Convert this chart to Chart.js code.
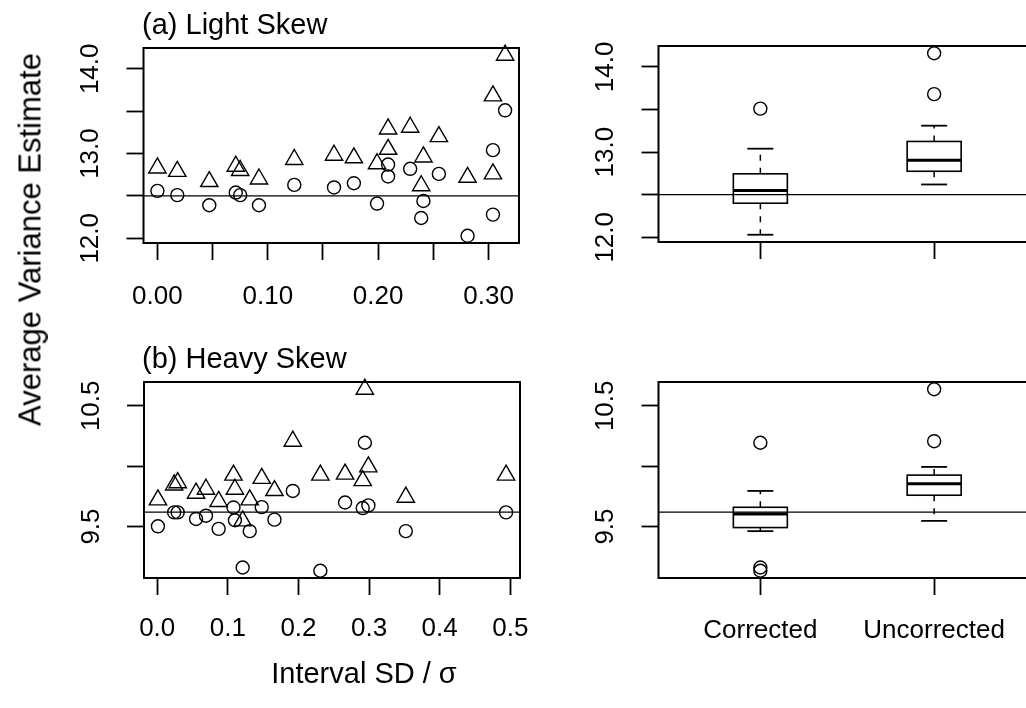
<!DOCTYPE html>
<html>
<head>
<meta charset="utf-8">
<title>Average Variance Estimate</title>
<script src="https://cdn.jsdelivr.net/npm/chart.js@4.4.1/dist/chart.umd.min.js"></script>
<style>
  html, body { margin: 0; padding: 0; background: #fff; }
  body { position: relative; width: 1026px; height: 708px; overflow: hidden; }
  canvas { position: absolute; }
  .label { position: absolute; font-family: 'Liberation Sans', Arial, Helvetica, sans-serif; color: #000; line-height: 1; white-space: nowrap; }
</style>
</head>
<body>
<canvas id="lightScatter" width="560" height="320" style="left:0;top:0"></canvas>
<canvas id="lightBox" width="500" height="320" style="left:540px;top:0"></canvas>
<canvas id="heavyScatter" width="560" height="388" style="left:0;top:320px"></canvas>
<canvas id="heavyBox" width="500" height="388" style="left:540px;top:320px"></canvas>

<div class="label" style="left:142px;top:10px;font-size:29px">(a) Light Skew</div>
<div class="label" style="left:142px;top:344px;font-size:29px">(b) Heavy Skew</div>
<div class="label" style="left:164px;top:659px;width:400px;text-align:center;font-size:29px">Interval SD / σ</div>
<div class="label" style="left:-220px;top:224px;width:500px;height:31px;text-align:center;font-size:31px;transform:rotate(-90deg)">Average Variance Estimate</div>

<script>
// (a) light skew: interval SD / sigma, corrected (circles) and uncorrected (triangles)
const lightSd = [0.000, 0.018, 0.047, 0.071, 0.075, 0.092, 0.124, 0.160, 0.178, 0.199,
                 0.209, 0.209, 0.229, 0.239, 0.241, 0.255, 0.281, 0.304, 0.304, 0.315];
const lightCorrected = [12.56, 12.51, 12.39, 12.54, 12.51, 12.39, 12.63, 12.60, 12.65, 12.41,
                        12.87, 12.73, 12.82, 12.24, 12.44, 12.76, 12.03, 13.04, 12.28, 13.51];
const lightUncorrected = [12.83, 12.79, 12.67, 12.85, 12.80, 12.70, 12.93, 12.98, 12.95, 12.88,
                          13.29, 13.05, 13.31, 12.62, 12.96, 13.20, 12.72, 13.68, 12.76, 14.16];

// (b) heavy skew
const heavySd = [0.001, 0.024, 0.029, 0.055, 0.069, 0.087, 0.108, 0.110, 0.121, 0.131,
                 0.148, 0.166, 0.192, 0.231, 0.266, 0.291, 0.294, 0.299, 0.352, 0.494];
const heavyCorrected = [9.502, 9.617, 9.617, 9.563, 9.590, 9.481, 9.658, 9.552, 9.161, 9.462,
                        9.661, 9.557, 9.795, 9.134, 9.699, 9.653, 10.194, 9.675, 9.462, 9.617];
const heavyUncorrected = [9.721, 9.844, 9.863, 9.776, 9.809, 9.708, 9.926, 9.809, 9.547, 9.721,
                          9.899, 9.798, 10.207, 9.926, 9.934, 9.880, 10.637, 9.994, 9.743, 9.926];

// true variance (horizontal reference line): light, heavy
const trueVariance = [12.5, 9.62];

const groups = ['Corrected', 'Uncorrected'];

const lightXTicks = [0, 0.05, 0.10, 0.15, 0.20, 0.25, 0.30];
const lightXLabels = ['0.00', '', '0.10', '', '0.20', '', '0.30'];
const heavyXTicks = [0, 0.1, 0.2, 0.3, 0.4, 0.5];
const heavyXLabels = ['0.0', '0.1', '0.2', '0.3', '0.4', '0.5'];
const lightYTicks = [12.0, 12.5, 13.0, 13.5, 14.0];
const lightYLabels = ['12.0', '', '13.0', '', '14.0'];
const heavyYTicks = [9.5, 10.0, 10.5];
const heavyYLabels = ['9.5', '', '10.5'];
const groupTicks = [1, 2];

const FONT = "'Liberation Sans', Arial, Helvetica, sans-serif";

// R style: data range stretched by 4% each side
function padRange(vals) {
    const lo = Math.min(...vals), hi = Math.max(...vals), d = (hi - lo) * 0.04;
    return [lo - d, hi + d];
}

// R boxplot.stats (fivenum hinges, 1.5 IQR whiskers)
function boxStats(vals) {
    const s = vals.slice().sort((a, b) => a - b), n = s.length;
    const n4 = Math.floor((n + 3) / 2) / 2;
    const q = d => 0.5 * (s[Math.floor(d) - 1] + s[Math.ceil(d) - 1]);
    const lo = q(n4), med = q((n + 1) / 2), hi = q(n + 1 - n4);
    const reach = 1.5 * (hi - lo);
    const inside = s.filter(v => v >= lo - reach && v <= hi + reach);
    return {
        lo, med, hi,
        wlo: inside[0], whi: inside[inside.length - 1],
        out: s.filter(v => v < lo - reach || v > hi + reach)
    };
}

function axis(o) {
    return {
        type: 'linear',
        min: o.min, max: o.max,
        afterBuildTicks: scale => { scale.ticks = o.ticks.map(v => ({ value: v })); },
        afterFit: scale => {
            if (o.width !== undefined) scale.width = o.width;
            if (o.height !== undefined) scale.height = o.height;
        },
        grid: { drawOnChartArea: false, drawTicks: true, tickLength: 17, tickWidth: 1.8, tickColor: '#000' },
        border: { display: false },
        ticks: {
            autoSkip: false,
            color: '#000',
            font: { family: FONT, size: 26 },
            padding: o.pad,
            minRotation: o.rot || 0,
            maxRotation: o.rot || 0,
            crossAlign: o.rot ? 'center' : 'near',
            callback: (v, i) => o.labels[i]
        }
    };
}

function pts(xs, ys) { return xs.map((x, i) => ({ x: x, y: ys[i] })); }

const circleStyle = { pointStyle: 'circle', pointRadius: 6.5, borderColor: '#000', borderWidth: 1.4, backgroundColor: 'rgba(0,0,0,0)', clip: false };
const triangleStyle = { pointStyle: 'triangle', pointRadius: 10, borderColor: '#000', borderWidth: 1.4, backgroundColor: 'rgba(0,0,0,0)', clip: false };

// frame round the plot area plus the true-variance line
function frame(ref) {
    return {
        id: 'frame',
        beforeDatasetsDraw(chart) {
            const { ctx, chartArea: a, scales: { y } } = chart;
            const py = y.getPixelForValue(ref);
            ctx.save();
            ctx.strokeStyle = '#000';
            ctx.lineWidth = 1.3;
            ctx.beginPath();
            ctx.moveTo(a.left, py);
            ctx.lineTo(a.right, py);
            ctx.stroke();
            ctx.lineWidth = 2;
            ctx.strokeRect(a.left, a.top, a.right - a.left, a.bottom - a.top);
            ctx.restore();
        }
    };
}

function boxes(series) {
    return {
        id: 'boxes',
        afterDatasetsDraw(chart) {
            const { ctx, scales: { x, y } } = chart;
            const seg = (x1, y1, x2, y2) => { ctx.beginPath(); ctx.moveTo(x1, y1); ctx.lineTo(x2, y2); ctx.stroke(); };
            ctx.save();
            ctx.strokeStyle = '#000';
            series.forEach((vals, i) => {
                const b = boxStats(vals);
                const cx = x.getPixelForValue(groupTicks[i]);
                const hw = 27, cw = 13;
                const Y = v => y.getPixelForValue(v);
                ctx.lineWidth = 1.5;
                ctx.setLineDash([6, 7]);
                seg(cx, Y(b.hi), cx, Y(b.whi));
                seg(cx, Y(b.lo), cx, Y(b.wlo));
                ctx.setLineDash([]);
                ctx.lineWidth = 1.8;
                seg(cx - cw, Y(b.whi), cx + cw, Y(b.whi));
                seg(cx - cw, Y(b.wlo), cx + cw, Y(b.wlo));
                ctx.lineWidth = 1.6;
                ctx.strokeRect(cx - hw, Y(b.hi), hw * 2, Y(b.lo) - Y(b.hi));
                ctx.lineWidth = 3;
                seg(cx - hw, Y(b.med), cx + hw, Y(b.med));
            });
            ctx.restore();
        }
    };
}

const common = {
    responsive: false,
    animation: false,
    devicePixelRatio: 1,
    events: [],
    plugins: { legend: { display: false }, tooltip: { enabled: false } }
};

const lightX = padRange(lightSd);
const lightY = padRange(lightCorrected.concat(lightUncorrected));
const heavyX = padRange(heavySd);
const heavyY = padRange(heavyCorrected.concat(heavyUncorrected));

new Chart(document.getElementById('lightScatter'), {
    type: 'scatter',
    data: {
        datasets: [
            Object.assign({ data: pts(lightSd, lightCorrected) }, circleStyle),
            Object.assign({ data: pts(lightSd, lightUncorrected) }, triangleStyle)
        ]
    },
    options: Object.assign({}, common, {
        layout: { autoPadding: false, padding: { left: 0, top: 48, right: 41, bottom: 0 } },
        scales: {
            x: axis({ min: lightX[0], max: lightX[1], ticks: lightXTicks, labels: lightXLabels, height: 77, pad: 21 }),
            y: axis({ min: lightY[0], max: lightY[1], ticks: lightYTicks, labels: lightYLabels, width: 143.5, pad: 10, rot: 90 })
        }
    }),
    plugins: [frame(trueVariance[0])]
});

new Chart(document.getElementById('heavyScatter'), {
    type: 'scatter',
    data: {
        datasets: [
            Object.assign({ data: pts(heavySd, heavyCorrected) }, circleStyle),
            Object.assign({ data: pts(heavySd, heavyUncorrected) }, triangleStyle)
        ]
    },
    options: Object.assign({}, common, {
        layout: { autoPadding: false, padding: { left: 0, top: 62, right: 40, bottom: 0 } },
        scales: {
            x: axis({ min: heavyX[0], max: heavyX[1], ticks: heavyXTicks, labels: heavyXLabels, height: 130, pad: 18 }),
            y: axis({ min: heavyY[0], max: heavyY[1], ticks: heavyYTicks, labels: heavyYLabels, width: 144, pad: 10, rot: 90 })
        }
    }),
    plugins: [frame(trueVariance[1])]
});

function outliers(series) {
    const out = [];
    series.forEach((vals, i) => boxStats(vals).out.forEach(v => out.push({ x: groupTicks[i], y: v })));
    return out;
}

new Chart(document.getElementById('lightBox'), {
    type: 'scatter',
    data: { datasets: [Object.assign({ data: outliers([lightCorrected, lightUncorrected]) }, circleStyle)] },
    options: Object.assign({}, common, {
        layout: { autoPadding: false, padding: { left: 0, top: 46, right: 4, bottom: 0 } },
        scales: {
            x: axis({ min: 0.414, max: 2.586, ticks: groupTicks, labels: ['', ''], height: 78, pad: 20 }),
            y: axis({ min: lightY[0], max: lightY[1], ticks: lightYTicks, labels: lightYLabels, width: 118.5, pad: 10, rot: 90 })
        }
    }),
    plugins: [frame(trueVariance[0]), boxes([lightCorrected, lightUncorrected])]
});

new Chart(document.getElementById('heavyBox'), {
    type: 'scatter',
    data: { datasets: [Object.assign({ data: outliers([heavyCorrected, heavyUncorrected]) }, circleStyle)] },
    options: Object.assign({}, common, {
        layout: { autoPadding: false, padding: { left: 0, top: 62, right: 4, bottom: 0 } },
        scales: {
            x: axis({ min: 0.414, max: 2.586, ticks: groupTicks, labels: groups, height: 130, pad: 20 }),
            y: axis({ min: heavyY[0], max: heavyY[1], ticks: heavyYTicks, labels: heavyYLabels, width: 118.5, pad: 10, rot: 90 })
        }
    }),
    plugins: [frame(trueVariance[1]), boxes([heavyCorrected, heavyUncorrected])]
});
</script>
</body>
</html>
